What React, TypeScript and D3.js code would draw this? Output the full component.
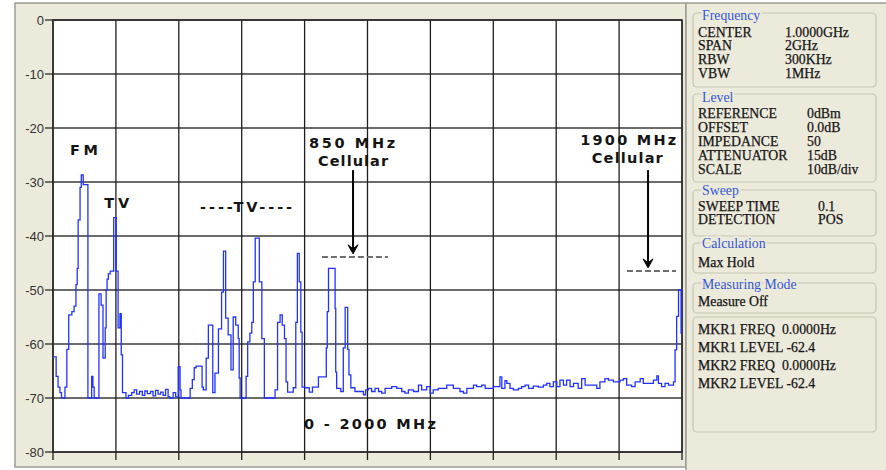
import React from "react";
import * as d3 from "d3";

type Pt = [number, number];

// Y axis (dBm) and X axis (MHz) ticks
const yTickValues = [0, -10, -20, -30, -40, -50, -60, -70, -80];
const xTickValues = [0, 200, 400, 600, 800, 1000, 1200, 1400, 1600, 1800, 2000];

// Max-hold trace, [frequency MHz, level dBm], step-after
const fmBand: Pt[] = [
  [0, -62.4], [10, -66], [16, -68], [22, -69], [27, -70], [38, -68], [44, -61], [50, -54.6],
  [60, -54], [67, -53], [73, -49], [77, -46], [80, -37], [86, -31], [90, -28.7], [96, -30.5],
  [111, -70], [123, -66], [127, -68], [131, -70],
];
const vhfTvBand: Pt[] = [
  [146, -50.7], [153, -52.8], [159, -62.6], [166, -57], [169, -50], [172, -48], [176, -47],
  [182, -46.5], [193, -36.6], [201, -46.5], [207, -57], [213, -54.4], [217, -62], [221, -69],
  [232, -70], [240, -69.5], [250, -69], [258, -68.5], [266, -69.3], [275, -68.8], [284, -69.5],
  [292, -68.7], [300, -69.2], [310, -68.8], [318, -69.6], [326, -68.6], [334, -69.3], [342, -68.9],
  [350, -69.5], [358, -68.4], [366, -69.8], [372, -70], [382, -69], [390, -69.8], [398, -64.2],
  [404, -68.5], [407, -70],
];
const uhfTvBand: Pt[] = [
  [436, -68.2], [443, -66.6], [449, -64.4], [455, -64.1], [474, -68], [478, -68.5], [487, -62.6],
  [494, -56.5], [508, -69], [515, -65.4], [526, -57.2], [536, -50.4], [542, -42.8], [549, -55.2],
  [557, -58.3], [566, -64.8], [573, -55], [581, -56.5], [589, -59], [592, -66.3], [595, -70],
  [614, -66], [619, -59.6], [626, -58], [632, -56], [637, -48.5], [643, -40.4], [656, -48.5],
  [664, -59], [672, -70], [706, -68.5], [714, -56], [722, -54.6], [729, -56.5], [736, -59],
  [741, -67], [746, -68.9], [764, -68.1], [772, -56], [777, -43.2], [783, -48.5], [788, -57.8],
  [792, -68], [801, -68.1], [815, -68.9], [825, -68],
];
const cellular850Band: Pt[] = [
  [844, -66.1], [869, -60.7], [872, -54], [876, -46], [897, -53.4], [899, -65.2], [902, -68.2],
  [915, -68.8], [923, -60.7], [929, -53.2], [937, -61], [941, -65.7], [947, -68.1],
];
const upperNoise: Pt[] = [
  [960, -68.8], [987, -69.4], [994, -68.5], [1003, -68.2], [1013, -68.8], [1024, -68.2],
  [1035, -68.8], [1045, -69.1], [1056, -68.2], [1077, -67.9], [1093, -68.2], [1109, -68.8],
  [1119, -69.1], [1130, -68.5], [1146, -68.8], [1162, -67.6], [1172, -68.5], [1188, -67.9],
  [1199, -69.1], [1209, -68.5], [1225, -68.2], [1252, -67.6], [1273, -68.2], [1294, -68.8],
  [1305, -69.1], [1316, -68.2], [1337, -67.6], [1347, -67.9], [1363, -67.6], [1374, -68.2],
  [1400, -67.9], [1421, -66.1], [1427, -68.2], [1437, -66.8], [1443, -67.3], [1453, -68.2],
  [1464, -68.5], [1480, -68.2], [1490, -67.9], [1501, -67.6], [1512, -68.2], [1527, -67.8],
  [1543, -68], [1559, -67.6], [1570, -67.3], [1580, -67.9], [1591, -67], [1602, -67.9],
  [1612, -66.7], [1623, -67.6], [1633, -66.7], [1644, -67.9], [1655, -67.3], [1670, -68.2],
  [1681, -66.4], [1692, -67.6], [1729, -68.2], [1739, -67], [1755, -66.4], [1766, -66.7],
  [1782, -67], [1803, -66.7], [1814, -66.4], [1824, -67.6], [1840, -67.9], [1851, -67],
  [1867, -66.4], [1877, -67.3], [1909, -66.7], [1920, -65.9], [1925, -67.3], [1935, -67.9],
  [1946, -67.3], [1957, -67.6], [1973, -67], [1978, -61.1], [1983, -54.9], [1989, -50],
  [1997, -58], [2000, -58],
];

// Side panel content
const frequencyRows = [["CENTER", "1.0000GHz"], ["SPAN", "2GHz"], ["RBW", "300KHz"], ["VBW", "1MHz"]];
const levelRows = [["REFERENCE", "0dBm"], ["OFFSET", "0.0dB"], ["IMPEDANCE", "50"], ["ATTENUATOR", "15dB"], ["SCALE", "10dB/div"]];
const sweepRows = [["SWEEP TIME", "0.1"], ["DETECTION", "POS"]];
const calculationRows = [["Max Hold", ""]];
const measuringRows = [["Measure Off", ""]];
const markerRows = [["MKR1 FREQ  0.0000Hz", ""], ["MKR1 LEVEL -62.4", ""], ["MKR2 FREQ  0.0000Hz", ""], ["MKR2 LEVEL -62.4", ""]];

const BG = "#ECEADB";
const SERIF = "'Liberation Serif', 'Times New Roman', serif";
const SANS = "'Liberation Sans', Arial, sans-serif";
const WIDE = "'DejaVu Sans', Verdana, sans-serif";

function GroupBox(props: {
  title?: string; top: number; bottom: number; titleY?: number;
  rows: string[][]; firstY: number; step: number; valueX?: number;
}) {
  const { title, top, bottom, titleY, rows, firstY, step, valueX } = props;
  return (
    <g>
      <rect x={693} y={top} width={183} height={bottom - top} rx={4} fill="none" stroke="#c6c4b2" strokeWidth={1.2} />
      {title && (
        <text x={702} y={titleY ?? top} dominantBaseline="central" fontFamily={SERIF} fontSize={13.8}
          fill="#3556d6" stroke={BG} strokeWidth={4} paintOrder="stroke">{title}</text>
      )}
      {rows.map((r, i) => (
        <g key={i}>
          <text x={698} y={firstY + i * step} dominantBaseline="central" fontFamily={SERIF} fontSize={13.8}
            fill="#151515" stroke="#151515" strokeWidth={0.25} style={{ whiteSpace: "pre" }}>{r[0]}</text>
          {r[1] && valueX && (
            <text x={valueX} y={firstY + i * step} dominantBaseline="central" fontFamily={SERIF} fontSize={13.8}
              fill="#151515" stroke="#151515" strokeWidth={0.25}>{r[1]}</text>
          )}
        </g>
      ))}
    </g>
  );
}

export default function App() {
  const x = d3.scaleLinear().domain([0, 2000]).range([53, 682]);
  const y = d3.scaleLinear().domain([-80, 0]).range([452, 20]);
  const trace: Pt[] = [...fmBand, ...vhfTvBand, ...uhfTvBand, ...cellular850Band, ...upperNoise];
  const line = d3.line<Pt>().x(d => x(d[0])).y(d => y(d[1])).curve(d3.curveStepAfter);

  const label = (txt: string, fx: number, fy: number, len: number, anchor = "middle") => (
    <text x={x(fx)} y={y(fy)} textAnchor={anchor} dominantBaseline="central" fontFamily={WIDE}
      fontWeight="bold" fontSize={14.5} fill="#141414" textLength={len} lengthAdjust="spacing">{txt}</text>
  );

  const arrow = (fx: number, fy1: number, fy2: number) => {
    const ax = x(fx), y1 = y(fy1), y2 = y(fy2);
    return (
      <g>
        <line x1={ax} x2={ax} y1={y1} y2={y2 - 4} stroke="#000" strokeWidth={2} />
        <path d={`M${ax - 5},${y2 - 9} L${ax},${y2} L${ax + 5},${y2 - 9} L${ax},${y2 - 5} Z`} fill="#000" stroke="#000" strokeWidth={1} />
      </g>
    );
  };

  return (
    <svg width={886} height={470} style={{ position: "absolute", left: 0, top: 0 }}>
      <rect x={0} y={0} width={886} height={470} fill="#fff" />
      <rect x={15} y={3} width={671} height={464} fill={BG} stroke="#9c9c94" strokeWidth={1.5} />
      <rect x={686} y={3} width={200} height={467} fill={BG} />
      <line x1={686} x2={686} y1={3} y2={470} stroke="#9c9c94" strokeWidth={1.5} />
      <line x1={686} x2={886} y1={3} y2={3} stroke="#9c9c94" strokeWidth={1.5} />

      {/* plot area */}
      <rect x={x(0)} y={y(0)} width={x(2000) - x(0)} height={y(-80) - y(0)} fill="#fff" />
      <defs>
        <clipPath id="plotClip">
          <rect x={x(0)} y={y(0) - 1} width={x(2000) - x(0) + 1} height={y(-80) - y(0) + 2} />
        </clipPath>
      </defs>
      {yTickValues.map(v => (
        <g key={"y" + v}>
          <line x1={x(0)} x2={x(2000)} y1={y(v)} y2={y(v)} stroke="#3a3a3a" strokeWidth={1.6} />
          <line x1={45} x2={x(0)} y1={y(v)} y2={y(v)} stroke="#3a3a3a" strokeWidth={1.4} />
          <text x={44} y={y(v)} textAnchor="end" dominantBaseline="central" fontFamily={SANS} fontSize={13} fill="#333">{v}</text>
        </g>
      ))}
      {xTickValues.map(v => (
        <g key={"x" + v}>
          <line x1={x(v)} x2={x(v)} y1={y(0)} y2={y(-80)} stroke="#1e1e1e" strokeWidth={1.3} />
          <line x1={x(v)} x2={x(v)} y1={y(-80)} y2={y(-80) + 8} stroke="#1e1e1e" strokeWidth={1.3} />
        </g>
      ))}
      <rect x={x(0)} y={y(0)} width={x(2000) - x(0)} height={y(-80) - y(0)} fill="none" stroke="#2a2a2a" strokeWidth={1.5} />

      <path d={line(trace) ?? ""} fill="none" stroke="#2233ff" strokeWidth={1.3} clipPath="url(#plotClip)" />

      {/* annotations */}
      {label("FM", 98.6, -24.1, 28)}
      {label("TV", 203, -33.9, 25)}
      {label("----TV----", 614, -34.6, 92)}
      {label("850 MHz", 951, -22.8, 86)}
      {label("Cellular", 954, -26.1, 70)}
      {label("1900 MHz", 1829, -22.2, 96)}
      {label("Cellular", 1826, -25.6, 71)}
      {label("0 - 2000 MHz", 798, -74.8, 132, "start")}
      {arrow(954, -27.8, -43.3)}
      {arrow(1892, -27.8, -45.9)}
      <line x1={x(855)} x2={x(1065)} y1={y(-43.9)} y2={y(-43.9)} stroke="#6e6e6e" strokeWidth={2} strokeDasharray="6 3" />
      <line x1={x(1825)} x2={x(1981)} y1={y(-46.5)} y2={y(-46.5)} stroke="#6e6e6e" strokeWidth={2} strokeDasharray="6 3" />

      {/* side panel */}
      <GroupBox title="Frequency" top={13} bottom={87} titleY={15} rows={frequencyRows} firstY={32} step={13.7} valueX={785} />
      <GroupBox title="Level" top={94} bottom={182} titleY={97} rows={levelRows} firstY={113} step={14} valueX={807} />
      <GroupBox title="Sweep" top={190} bottom={236} titleY={190} rows={sweepRows} firstY={206} step={13.5} valueX={818} />
      <GroupBox title="Calculation" top={243} bottom={273} titleY={243} rows={calculationRows} firstY={262} step={14} />
      <GroupBox title="Measuring Mode" top={283} bottom={313} titleY={284} rows={measuringRows} firstY={301} step={14} />
      <GroupBox top={317} bottom={432} rows={markerRows} firstY={329} step={18} />
    </svg>
  );
}
